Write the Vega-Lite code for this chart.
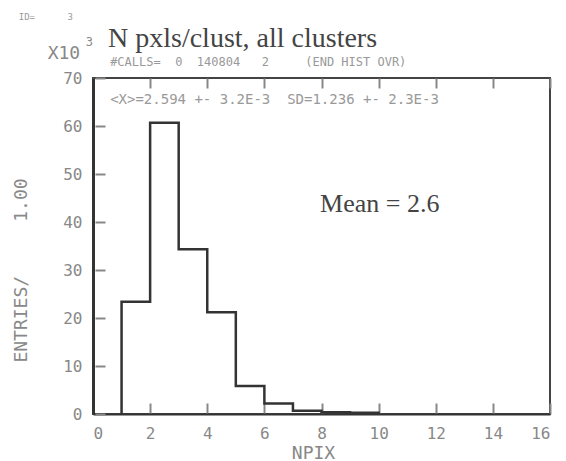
{
  "$schema": "https://vega.github.io/schema/vega-lite/v6.json",
  "width": 457,
  "height": 336,
  "autosize": "none",
  "padding": {"left": 93, "top": 78, "right": 16, "bottom": 47},
  "background": "white",
  "config": {
    "view": {"stroke": "#444", "strokeWidth": 2},
    "axis": {
      "grid": false,
      "labelFont": "DejaVu Sans Mono",
      "labelFontSize": 16,
      "labelColor": "#888",
      "titleFont": "DejaVu Sans Mono",
      "titleFontSize": 18,
      "titleColor": "#888",
      "titleFontWeight": "normal",
      "tickColor": "#888",
      "tickWidth": 2,
      "domainColor": "#333"
    }
  },
  "datasets": {
    "hist": [
      {"i": 0, "npix": 1, "entries": 0},
      {"i": 1, "npix": 1, "entries": 23.4},
      {"i": 2, "npix": 2, "entries": 60.7},
      {"i": 3, "npix": 3, "entries": 34.3},
      {"i": 4, "npix": 4, "entries": 21.2},
      {"i": 5, "npix": 5, "entries": 5.85},
      {"i": 6, "npix": 6, "entries": 2.2},
      {"i": 7, "npix": 7, "entries": 0.7},
      {"i": 8, "npix": 8, "entries": 0.35},
      {"i": 9, "npix": 9, "entries": 0.25},
      {"i": 10, "npix": 10, "entries": 0}
    ],
    "title": [{"npix": 0.525, "entries": 76.5, "label": "N pxls/clust, all clusters"}],
    "subtitle": [{"npix": 0.6, "entries": 73.4, "label": "#CALLS=\u00a0\u00a00\u00a0\u00a0140804\u00a0\u00a0\u00a02\u00a0\u00a0\u00a0\u00a0\u00a0(END HIST OVR)"}],
    "mean": [{"npix": 7.95, "entries": 42.1, "label": "Mean = 2.6"}],
    "stats": [{"npix": 0.6, "entries": 65.5, "label": "<X>=2.594 +- 3.2E-3\u00a0\u00a0SD=1.236 +- 2.3E-3"}],
    "scale": [{"npix": -0.45, "entries": 75.1, "label": "X10"}],
    "sup": [{"npix": -0.25, "entries": 77.4, "label": "3"}],
    "ident": [{"npix": -2.6, "entries": 82.8, "label": "ID=\u00a0\u00a0\u00a0\u00a0\u00a0\u00a03"}]
  },
  "layer": [
    {
      "data": {"name": "hist"},
      "mark": {"type": "point", "opacity": 0},
      "encoding": {
        "x": {
          "field": "npix", "type": "quantitative",
          "scale": {"domain": [0, 16], "nice": false},
          "axis": {"orient": "top", "tickCount": 8, "offset": -10, "tickSize": 10, "labelOpacity": 0, "domainOpacity": 0, "title": ""}
        },
        "y": {
          "field": "entries", "type": "quantitative",
          "scale": {"domain": [0, 70], "nice": false},
          "axis": {"orient": "left", "tickCount": 7, "offset": -12, "tickSize": 10, "labelOpacity": 0, "domainOpacity": 0, "title": ""}
        }
      }
    },
    {
      "data": {"name": "hist"},
      "mark": {"type": "point", "opacity": 0},
      "encoding": {
        "x": {
          "field": "npix", "type": "quantitative",
          "axis": {"orient": "bottom", "tickCount": 8, "offset": -11, "tickSize": 11, "labelOpacity": 0, "domainOpacity": 0, "title": ""}
        },
        "y": {"field": "entries", "type": "quantitative", "axis": null}
      }
    },
    {
      "data": {"name": "hist"},
      "mark": {"type": "line", "interpolate": "step-after", "color": "#333", "strokeWidth": 2.5},
      "encoding": {
        "x": {
          "field": "npix", "type": "quantitative",
          "axis": {
            "orient": "bottom",
            "values": [0, 2, 4, 6, 8, 10, 12, 14, 16],
            "ticks": false,
            "labelPadding": 11,
            "domainWidth": 2,
            "title": "NPIX",
            "titleX": 220,
            "titleY": 44,
            "titleBaseline": "alphabetic"
          }
        },
        "y": {
          "field": "entries", "type": "quantitative",
          "axis": {
            "orient": "left",
            "values": [0, 10, 20, 30, 40, 50, 60, 70],
            "ticks": false,
            "labelPadding": 11,
            "domainWidth": 3,
            "title": "ENTRIES/\u00a0\u00a0\u00a0\u00a0\u00a01.00",
            "titleAngle": -90,
            "titleX": -72,
            "titleY": 192,
            "titleAlign": "center",
            "titleBaseline": "middle"
          }
        },
        "order": {"field": "i"}
      }
    },
    {
      "data": {"name": "title"},
      "mark": {"type": "text", "font": "Liberation Serif", "fontSize": 28, "color": "#444", "align": "left", "baseline": "alphabetic"},
      "encoding": {
        "x": {"field": "npix", "type": "quantitative", "axis": null},
        "y": {"field": "entries", "type": "quantitative", "axis": null},
        "text": {"field": "label"}
      }
    },
    {
      "data": {"name": "subtitle"},
      "mark": {"type": "text", "font": "DejaVu Sans Mono", "fontSize": 12, "color": "#999", "align": "left", "baseline": "middle"},
      "encoding": {
        "x": {"field": "npix", "type": "quantitative", "axis": null},
        "y": {"field": "entries", "type": "quantitative", "axis": null},
        "text": {"field": "label"}
      }
    },
    {
      "data": {"name": "mean"},
      "mark": {"type": "text", "font": "Liberation Serif", "fontSize": 26, "color": "#444", "align": "left", "baseline": "alphabetic"},
      "encoding": {
        "x": {"field": "npix", "type": "quantitative", "axis": null},
        "y": {"field": "entries", "type": "quantitative", "axis": null},
        "text": {"field": "label"}
      }
    },
    {
      "data": {"name": "stats"},
      "mark": {"type": "text", "font": "DejaVu Sans Mono", "fontSize": 14, "color": "#999", "align": "left", "baseline": "middle"},
      "encoding": {
        "x": {"field": "npix", "type": "quantitative", "axis": null},
        "y": {"field": "entries", "type": "quantitative", "axis": null},
        "text": {"field": "label"}
      }
    },
    {
      "data": {"name": "scale"},
      "mark": {"type": "text", "font": "DejaVu Sans Mono", "fontSize": 18, "color": "#888", "align": "right", "baseline": "middle"},
      "encoding": {
        "x": {"field": "npix", "type": "quantitative", "axis": null},
        "y": {"field": "entries", "type": "quantitative", "axis": null},
        "text": {"field": "label"}
      }
    },
    {
      "data": {"name": "sup"},
      "mark": {"type": "text", "font": "DejaVu Sans Mono", "fontSize": 12, "color": "#888", "align": "left", "baseline": "middle"},
      "encoding": {
        "x": {"field": "npix", "type": "quantitative", "axis": null},
        "y": {"field": "entries", "type": "quantitative", "axis": null},
        "text": {"field": "label"}
      }
    },
    {
      "data": {"name": "ident"},
      "mark": {"type": "text", "font": "DejaVu Sans Mono", "fontSize": 9, "color": "#999", "align": "left", "baseline": "middle"},
      "encoding": {
        "x": {"field": "npix", "type": "quantitative", "axis": null},
        "y": {"field": "entries", "type": "quantitative", "axis": null},
        "text": {"field": "label"}
      }
    }
  ],
  "resolve": {"axis": {"x": "independent", "y": "independent"}}
}
